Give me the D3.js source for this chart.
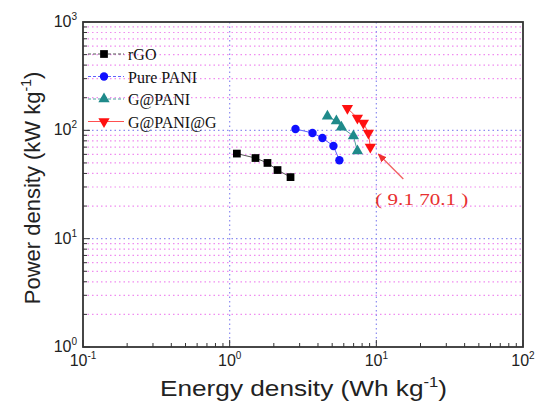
<!DOCTYPE html>
<html>
<head>
<meta charset="utf-8">
<script src="https://cdn.jsdelivr.net/npm/d3@7"></script>
<style>
  body { margin: 0; background: #fff; }
  svg { display: block; }
</style>
</head>
<body>
<div id="chart"></div>
<script>
// series values (Wh/kg, kW/kg)
var seriesNames = ["rGO", "Pure PANI", "G@PANI", "G@PANI@G"];
var rgoE  = [1.12, 1.50, 1.81, 2.12, 2.60];
var rgoP  = [61, 55.5, 50, 43, 37];
var paniE = [2.81, 3.67, 4.29, 5.10, 5.60];
var paniP = [103, 94.5, 85, 71.6, 53];
var gpE   = [4.64, 5.34, 5.78, 6.98, 7.43];
var gpP   = [135, 122, 107, 88.5, 64.4];
var gpgE  = [6.35, 7.43, 8.16, 8.83, 9.1];
var gpgP  = [160, 130, 117, 94.5, 70.1];
var xTicks = [-1, 0, 1, 2];
var yTicks = [0, 1, 2, 3];
var annotation = { e: 9.1, p: 70.1, text: "( 9.1 70.1 )" };

var margin = {top: 22, right: 12, bottom: 56, left: 83},
    width = 535 - margin.left - margin.right,
    height = 403 - margin.top - margin.bottom;

var root = d3.select("#chart")
  .append("svg")
    .attr("width", 535)
    .attr("height", 403);
var svg = root.append("g")
    .attr("transform", "translate(" + margin.left + "," + margin.top + ")");

var x = d3.scaleLog().domain([0.1, 100]).range([0, width]);
var y = d3.scaleLog().domain([1, 1000]).range([height, 0]);

// minor values per decade
var minorX = [], minorY = [];
[0.1, 1, 10].forEach(function(d) { for (var k = 2; k <= 9; k++) minorX.push(d * k); });
[1, 10, 100].forEach(function(d) { for (var k = 2; k <= 9; k++) minorY.push(d * k); });

// grid: pink minor horizontals, blue major
svg.append("g").selectAll("line").data(minorY).enter().append("line")
  .attr("x1", 0).attr("x2", width)
  .attr("y1", function(d) { return y(d); }).attr("y2", function(d) { return y(d); })
  .attr("stroke", "#f08cf0").attr("stroke-width", 1.2).attr("stroke-dasharray", "1.5,3");
svg.append("g").selectAll("line").data([10, 100]).enter().append("line")
  .attr("x1", 0).attr("x2", width)
  .attr("y1", function(d) { return y(d); }).attr("y2", function(d) { return y(d); })
  .attr("stroke", "#8c8cf0").attr("stroke-width", 1.2).attr("stroke-dasharray", "1.5,3");
svg.append("g").selectAll("line").data([1, 10]).enter().append("line")
  .attr("y1", 0).attr("y2", height)
  .attr("x1", function(d) { return x(d); }).attr("x2", function(d) { return x(d); })
  .attr("stroke", "#8c8cf0").attr("stroke-width", 1.2).attr("stroke-dasharray", "1.5,3");

// ticks (inward), bottom and left only
var tk = svg.append("g").attr("stroke", "#333").attr("stroke-width", 1);
tk.selectAll(".mx").data(minorX).enter().append("line")
  .attr("x1", function(d) { return x(d); }).attr("x2", function(d) { return x(d); })
  .attr("y1", height).attr("y2", height - 4);
tk.selectAll(".Mx").data(xTicks).enter().append("line")
  .attr("x1", function(d) { return x(Math.pow(10, d)); }).attr("x2", function(d) { return x(Math.pow(10, d)); })
  .attr("y1", height).attr("y2", height - 7);
tk.selectAll(".my").data(minorY).enter().append("line")
  .attr("y1", function(d) { return y(d); }).attr("y2", function(d) { return y(d); })
  .attr("x1", 0).attr("x2", 4);
tk.selectAll(".My").data(yTicks).enter().append("line")
  .attr("y1", function(d) { return y(Math.pow(10, d)); }).attr("y2", function(d) { return y(Math.pow(10, d)); })
  .attr("x1", 0).attr("x2", 7);

// frame
svg.append("rect").attr("width", width).attr("height", height)
  .attr("fill", "none").attr("stroke", "#333").attr("stroke-width", 1.8);

// tick labels with superscripts
var xl = svg.append("g").selectAll("text").data(xTicks).enter().append("text")
  .attr("x", function(d) { return x(Math.pow(10, d)); })
  .attr("y", height + 19)
  .attr("text-anchor", "middle")
  .style("font-family", "Liberation Sans, Arial, sans-serif")
  .style("font-size", "16px").attr("fill", "#222");
xl.append("tspan").text("10");
xl.append("tspan").attr("dy", -7).style("font-size", "10px").text(function(d) { return d; });

var yl = svg.append("g").selectAll("text").data(yTicks).enter().append("text")
  .attr("x", -6)
  .attr("y", function(d) { return y(Math.pow(10, d)) + 5; })
  .attr("text-anchor", "end")
  .style("font-family", "Liberation Sans, Arial, sans-serif")
  .style("font-size", "16px").attr("fill", "#222");
yl.append("tspan").text("10");
yl.append("tspan").attr("dy", -7).style("font-size", "10px").text(function(d) { return d; });

// axis titles
var xt = root.append("text")
  .attr("x", 160).attr("y", 396)
  .attr("textLength", 287).attr("lengthAdjust", "spacingAndGlyphs")
  .style("font-family", "Liberation Sans, Arial, sans-serif")
  .style("font-size", "22px").attr("fill", "#222");
xt.append("tspan").text("Energy density (Wh kg");
xt.append("tspan").attr("dy", -9).style("font-size", "14px").text("-1");
xt.append("tspan").attr("dy", 9).text(")");

var yt = root.append("text")
  .attr("transform", "translate(40,188) rotate(-90)")
  .attr("text-anchor", "middle")
  .style("font-family", "Liberation Sans, Arial, sans-serif")
  .style("font-size", "22px").attr("fill", "#222");
yt.append("tspan").text("Power density (kW kg");
yt.append("tspan").attr("dy", -9).style("font-size", "14px").text("-1");
yt.append("tspan").attr("dy", 9).text(")");

// series
var series = [
  {name: seriesNames[0], e: rgoE,  p: rgoP,  color: "#000000", line: "#555555", shape: d3.symbolSquare,   size: 60},
  {name: seriesNames[1], e: paniE, p: paniP, color: "#1010ff", line: "#6060ff", shape: d3.symbolCircle,   size: 55},
  {name: seriesNames[2], e: gpE,   p: gpP,   color: "#1f8a8a", line: "#4f9f9f", shape: d3.symbolTriangle, size: 55},
  {name: seriesNames[3], e: gpgE,  p: gpgP,  color: "#ff1010", line: "#ff5050", shape: d3.symbolTriangle, size: 55, down: true}
];

var line = d3.line()
  .x(function(d) { return x(d[0]); })
  .y(function(d) { return y(d[1]); });

series.forEach(function(s) {
  var pts = s.e.map(function(v, i) { return [v, s.p[i]]; });
  svg.append("path").datum(pts)
    .attr("d", line).attr("fill", "none")
    .attr("stroke", s.line).attr("stroke-width", 1);
  svg.append("g").selectAll("path").data(pts).enter().append("path")
    .attr("d", d3.symbol().type(s.shape).size(s.size))
    .attr("transform", function(d) {
      return "translate(" + x(d[0]) + "," + y(d[1]) + ")" + (s.down ? " rotate(180)" : "");
    })
    .attr("fill", s.color);
});

// legend
var legend = svg.append("g").attr("transform", "translate(5,32)");
series.forEach(function(s, i) {
  var g = legend.append("g").attr("transform", "translate(0," + (i * 22.5) + ")");
  g.append("line").attr("x1", 0).attr("x2", 36).attr("y1", 0).attr("y2", 0)
    .attr("stroke", s.line).attr("stroke-width", 1)
    .attr("stroke-dasharray", i < 3 ? "3,2" : null);
  g.append("path")
    .attr("d", d3.symbol().type(s.shape).size(s.size))
    .attr("transform", "translate(16,0)" + (s.down ? " rotate(180)" : ""))
    .attr("fill", s.color);
  g.append("text").attr("x", 40).attr("y", 6)
    .style("font-family", "Liberation Serif, Times New Roman, serif")
    .style("font-size", "16px").attr("fill", "#111")
    .text(s.name);
});

// annotation arrow and label
var ax = x(annotation.e), ay = y(annotation.p);
root.append("defs").append("marker")
  .attr("id", "arr").attr("viewBox", "0 0 10 10")
  .attr("refX", 9).attr("refY", 5)
  .attr("markerWidth", 7).attr("markerHeight", 7)
  .attr("orient", "auto")
  .append("path").attr("d", "M0,1 L10,5 L0,9 Z").attr("fill", "#f03030");
svg.append("line")
  .attr("x1", ax + 33).attr("y1", ay + 32)
  .attr("x2", ax + 8).attr("y2", ay + 7)
  .attr("stroke", "#f06060").attr("stroke-width", 1.3)
  .attr("marker-end", "url(#arr)");
svg.append("text")
  .attr("x", ax + 5).attr("y", ay + 58)
  .attr("textLength", 93).attr("lengthAdjust", "spacingAndGlyphs")
  .style("font-family", "Liberation Serif, Times New Roman, serif")
  .style("font-size", "17px").attr("fill", "#e83030")
  .text(annotation.text);
</script>
</body>
</html>
